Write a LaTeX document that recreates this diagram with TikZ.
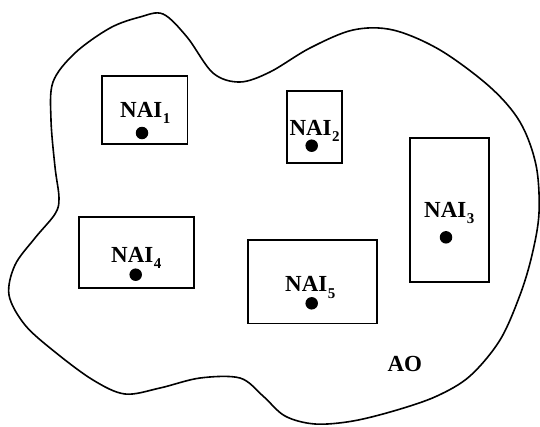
\documentclass[tikz,border=0pt]{standalone}
\usepackage{fontspec}
\setmainfont{Liberation Serif}
\newcommand\naisub[1]{\hspace{0.5pt}\raisebox{-6.5pt}{\fontsize{15}{15}\selectfont #1}}
\tikzset{
  blob/.style={line width=1.6pt, line join=round},
  areabox/.style={draw, line width=1.7pt, inner sep=0pt},
  lbl/.style={anchor=base west, inner sep=0pt, font=\fontsize{23}{27}\selectfont\bfseries},
  spot/.style={circle, fill=black, inner sep=0pt, minimum size=12.5pt}
}
\begin{document}
\begin{tikzpicture}[x=1pt, y=-1pt]
\useasboundingbox (0,0) rectangle (540,426);
\draw[blob] plot[smooth cycle, tension=0.55] coordinates {(163,14) (187,37) (213,73) (240,82) (270,72) (310,48) (353,30) (393,30) (440,50) (490,87) (520,122) (536,165) (539,213) (532,255) (520,295) (500,340) (470,376) (437,396) (397,410) (353,421) (315,424) (285,416) (263,396) (240,378) (200,378) (160,388) (125,394) (93,380) (55,352) (25,325) (9,295) (15,265) (35,238) (55,214) (59,198) (55,167) (51,120) (53,82) (75,53) (110,28) (140,17)};
% boxes
\node[areabox, minimum width=85.5pt, minimum height=68pt] (b1) at (144.7,110) {};
\node[areabox, minimum width=55pt, minimum height=72pt] (b2) at (314.2,126.7) {};
\node[areabox, minimum width=79pt, minimum height=143.7pt] (b3) at (449.5,209.8) {};
\node[areabox, minimum width=115.3pt, minimum height=71pt] (b4) at (136.6,252.5) {};
\node[areabox, minimum width=129pt, minimum height=83.5pt] (b5) at (312.5,281.7) {};
% labels
\node[lbl] (t1) at (120,117.3) {NAI\naisub{1}};
\node[lbl] (t2) at (289.3,135) {NAI\naisub{2}};
\node[lbl] (t3) at (424,217.3) {NAI\naisub{3}};
\node[lbl] (t4) at (111,262.3) {NAI\naisub{4}};
\node[lbl] (t5) at (285,291.7) {NAI\naisub{5}};
\node[lbl] (ao) at (387.3,371.7) {AO};
% dots
\node[spot] (d1) at (142,133) {};
\node[spot] (d2) at (311.7,145.7) {};
\node[spot] (d3) at (446,237.3) {};
\node[spot] (d4) at (135.7,274.7) {};
\node[spot] (d5) at (311.7,303.3) {};
\end{tikzpicture}
\end{document}
